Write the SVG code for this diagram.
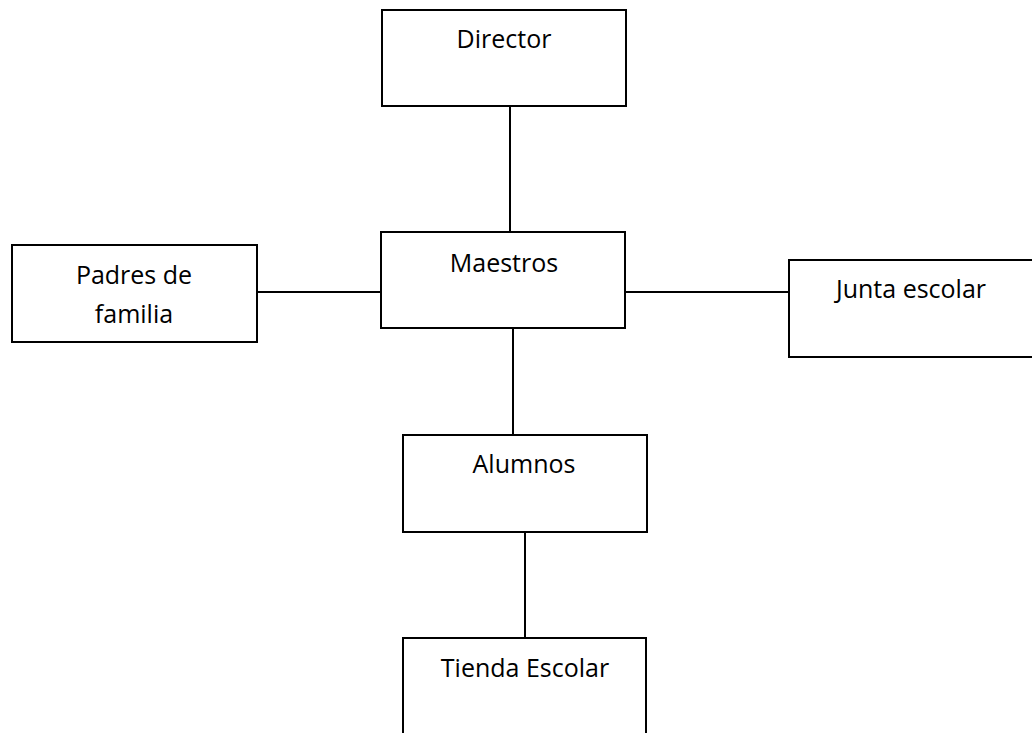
<svg xmlns="http://www.w3.org/2000/svg" width="1032" height="733" viewBox="0 0 1032 733">
<style>
.box{fill:#fff;stroke:#000;stroke-width:2}
.lbl{font-family:"Open Sans","Liberation Sans",sans-serif;font-size:25px;fill:#000;text-anchor:middle}
.conn{stroke:#000;stroke-width:2;fill:none}
</style>
<rect width="1032" height="733" fill="#fff"/>
<g id="connectors">
<line class="conn" x1="510" y1="106" x2="510" y2="232"/>
<line class="conn" x1="257" y1="292" x2="381" y2="292"/>
<line class="conn" x1="625" y1="292" x2="789" y2="292"/>
<line class="conn" x1="513" y1="328" x2="513" y2="435"/>
<line class="conn" x1="525" y1="532" x2="525" y2="638"/>
</g>
<g id="director">
<rect class="box" x="382" y="10" width="244" height="96"/>
<text class="lbl" x="504" y="48">Director</text>
</g>
<g id="padres">
<rect class="box" x="12" y="245" width="245" height="97"/>
<text class="lbl" x="134" y="284">Padres de</text>
<text class="lbl" x="134" y="323">familia</text>
</g>
<g id="maestros">
<rect class="box" x="381" y="232" width="244" height="96"/>
<text class="lbl" x="504" y="272">Maestros</text>
</g>
<g id="junta">
<rect class="box" x="789" y="260" width="260" height="97"/>
<text class="lbl" x="911" y="298">Junta escolar</text>
</g>
<g id="alumnos">
<rect class="box" x="403" y="435" width="244" height="97"/>
<text class="lbl" x="524" y="473">Alumnos</text>
</g>
<g id="tienda">
<rect class="box" x="403" y="638" width="243" height="110"/>
<text class="lbl" x="525" y="677">Tienda Escolar</text>
</g>
</svg>
